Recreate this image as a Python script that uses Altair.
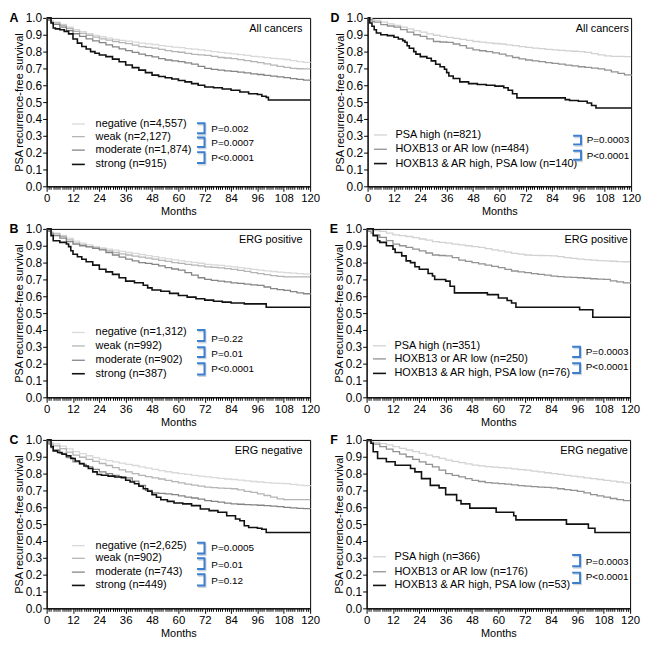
import altair as alt
import pandas as pd

W, H = 266, 170
FONT = "Liberation Sans"

GRID = [0, 1, 2, 3, 6, 9, 12, 15, 18, 21, 24, 27, 30, 33, 36, 39, 42, 45, 48, 51, 54, 57,
        60, 63, 66, 69, 72, 75, 78, 81, 84, 87, 90, 93, 96, 99, 102, 105, 108, 111, 114, 117, 120]

# ---------------- Panel A : All cancers (PSA staining) ----------------
A_neg = [1.0, 0.99, 0.982, 0.975, 0.962, 0.945, 0.93, 0.918, 0.906, 0.896, 0.888, 0.88, 0.873, 0.867,
         0.862, 0.856, 0.85, 0.846, 0.842, 0.836, 0.831, 0.827, 0.823, 0.818, 0.814, 0.81, 0.806, 0.80,
         0.795, 0.791, 0.787, 0.782, 0.777, 0.772, 0.768, 0.764, 0.76, 0.757, 0.753, 0.746, 0.74, 0.736, 0.733]
A_weak = [1.0, 0.988, 0.978, 0.97, 0.955, 0.937, 0.92, 0.908, 0.897, 0.886, 0.876, 0.868, 0.86, 0.853,
          0.847, 0.838, 0.83, 0.825, 0.82, 0.813, 0.806, 0.80, 0.796, 0.79, 0.784, 0.78, 0.777, 0.771,
          0.765, 0.762, 0.758, 0.752, 0.746, 0.74, 0.734, 0.727, 0.72, 0.712, 0.706, 0.70, 0.698, 0.697, 0.696]
A_mod = [1.0, 0.985, 0.972, 0.962, 0.945, 0.925, 0.906, 0.89, 0.876, 0.864, 0.853, 0.84, 0.828, 0.816,
         0.806, 0.795, 0.785, 0.776, 0.768, 0.758, 0.75, 0.745, 0.74, 0.733, 0.725, 0.712, 0.70, 0.695,
         0.69, 0.686, 0.683, 0.678, 0.673, 0.668, 0.664, 0.659, 0.654, 0.65, 0.645, 0.64, 0.635, 0.63, 0.626]
A_str_t = [0, 2, 3, 4, 6, 8, 10, 12, 14, 16, 18, 20, 22, 24, 27, 30, 33, 36, 39, 42, 45, 48, 51, 54,
           57, 60, 63, 66, 69, 72, 76, 80, 84, 88, 92, 96, 98, 100, 101, 120]
A_str_s = [1.0, 0.97, 0.94, 0.935, 0.93, 0.92, 0.905, 0.875, 0.85, 0.83, 0.815, 0.80, 0.79, 0.78, 0.77,
           0.755, 0.74, 0.72, 0.705, 0.69, 0.675, 0.66, 0.652, 0.645, 0.637, 0.628, 0.62, 0.61, 0.60,
           0.59, 0.585, 0.578, 0.57, 0.56, 0.55, 0.545, 0.535, 0.528, 0.513, 0.513]

# ---------------- Panel B : ERG positive ----------------
B_neg = [1.0, 0.99, 0.982, 0.975, 0.962, 0.945, 0.928, 0.915, 0.905, 0.895, 0.887, 0.88, 0.874, 0.867,
         0.86, 0.855, 0.848, 0.841, 0.835, 0.828, 0.822, 0.816, 0.81, 0.806, 0.801, 0.796, 0.79, 0.787,
         0.783, 0.779, 0.775, 0.77, 0.765, 0.76, 0.755, 0.751, 0.747, 0.744, 0.74, 0.737, 0.734, 0.732, 0.73]
B_weak = [1.0, 0.988, 0.978, 0.97, 0.955, 0.935, 0.915, 0.905, 0.895, 0.887, 0.88, 0.87, 0.86, 0.852,
          0.845, 0.838, 0.832, 0.826, 0.82, 0.813, 0.807, 0.80, 0.795, 0.79, 0.785, 0.78, 0.775, 0.772,
          0.768, 0.764, 0.76, 0.754, 0.748, 0.741, 0.735, 0.728, 0.722, 0.718, 0.715, 0.715, 0.715, 0.715, 0.715]
B_mod = [1.0, 0.985, 0.97, 0.96, 0.945, 0.925, 0.91, 0.90, 0.893, 0.885, 0.875, 0.86, 0.845, 0.832,
         0.82, 0.81, 0.80, 0.795, 0.79, 0.78, 0.77, 0.762, 0.755, 0.74, 0.725, 0.71, 0.70, 0.695, 0.69,
         0.685, 0.68, 0.676, 0.672, 0.668, 0.665, 0.655, 0.645, 0.64, 0.635, 0.628, 0.62, 0.615, 0.61]
B_str_t = [0, 2, 3, 6, 9, 10, 11, 12, 14, 16, 18, 21, 24, 27, 30, 33, 36, 40, 44, 46, 48, 52, 56, 60,
           64, 68, 72, 76, 80, 84, 90, 99, 100, 120]
B_str_s = [1.0, 0.96, 0.93, 0.92, 0.91, 0.895, 0.87, 0.85, 0.835, 0.82, 0.805, 0.785, 0.76, 0.745, 0.73,
           0.71, 0.69, 0.68, 0.665, 0.65, 0.637, 0.63, 0.617, 0.605, 0.595, 0.585, 0.577, 0.57, 0.565,
           0.56, 0.555, 0.555, 0.535, 0.535]

# ---------------- Panel C : ERG negative ----------------
C_neg = [1.0, 0.99, 0.983, 0.977, 0.963, 0.947, 0.93, 0.918, 0.906, 0.895, 0.885, 0.877, 0.87, 0.862,
         0.855, 0.848, 0.84, 0.832, 0.825, 0.818, 0.811, 0.805, 0.80, 0.795, 0.79, 0.785, 0.78, 0.776,
         0.772, 0.768, 0.765, 0.761, 0.757, 0.753, 0.75, 0.747, 0.744, 0.742, 0.74, 0.736, 0.732, 0.728, 0.725]
C_weak = [1.0, 0.985, 0.975, 0.965, 0.948, 0.928, 0.91, 0.897, 0.885, 0.872, 0.86, 0.848, 0.835, 0.822,
          0.81, 0.80, 0.79, 0.782, 0.775, 0.768, 0.76, 0.752, 0.745, 0.738, 0.732, 0.726, 0.72, 0.717,
          0.714, 0.712, 0.71, 0.703, 0.695, 0.688, 0.68, 0.67, 0.66, 0.65, 0.645, 0.645, 0.645, 0.645, 0.645]
C_mod = [1.0, 0.975, 0.955, 0.94, 0.92, 0.895, 0.87, 0.855, 0.84, 0.825, 0.81, 0.80, 0.79, 0.782, 0.775,
         0.755, 0.73, 0.70, 0.685, 0.682, 0.68, 0.675, 0.668, 0.66, 0.655, 0.648, 0.64, 0.635, 0.63,
         0.625, 0.62, 0.618, 0.616, 0.614, 0.612, 0.61, 0.607, 0.604, 0.60, 0.597, 0.594, 0.592, 0.59]
C_str_t = [0, 2, 3, 5, 7, 9, 11, 13, 15, 17, 19, 21, 23, 25, 28, 31, 34, 36, 38, 40, 42, 44, 46, 48,
           50, 52, 55, 58, 62, 66, 70, 74, 78, 82, 84, 86, 88, 90, 92, 96, 98, 100, 120]
C_str_s = [1.0, 0.96, 0.935, 0.925, 0.915, 0.905, 0.89, 0.875, 0.86, 0.845, 0.83, 0.81, 0.795, 0.79,
           0.785, 0.78, 0.775, 0.76, 0.75, 0.74, 0.725, 0.71, 0.695, 0.675, 0.66, 0.645, 0.635, 0.625,
           0.62, 0.61, 0.59, 0.58, 0.57, 0.55, 0.55, 0.53, 0.52, 0.49, 0.48, 0.475, 0.47, 0.45, 0.45]

# ---------------- Panel D : All cancers (groups) ----------------
D_high = [1.0, 0.995, 0.99, 0.985, 0.975, 0.965, 0.955, 0.945, 0.935, 0.925, 0.915, 0.905, 0.897, 0.89,
          0.884, 0.878, 0.872, 0.866, 0.86, 0.856, 0.852, 0.848, 0.845, 0.84, 0.835, 0.83, 0.825, 0.821,
          0.817, 0.813, 0.81, 0.807, 0.804, 0.802, 0.80, 0.795, 0.788, 0.78, 0.775, 0.772, 0.771, 0.77, 0.77]
D_low = [1.0, 0.99, 0.98, 0.975, 0.96, 0.952, 0.945, 0.93, 0.915, 0.90, 0.89, 0.875, 0.86, 0.857, 0.855,
         0.845, 0.835, 0.82, 0.81, 0.805, 0.80, 0.792, 0.785, 0.775, 0.765, 0.757, 0.75, 0.745, 0.74,
         0.735, 0.73, 0.725, 0.72, 0.715, 0.71, 0.706, 0.702, 0.697, 0.69, 0.68, 0.67, 0.662, 0.655]
D_blk_t = [0, 1, 2, 3, 4, 6, 9, 12, 14, 16, 17, 18, 19, 21, 22, 24, 27, 29, 31, 33, 35, 36, 37, 39, 42,
           46, 50, 54, 58, 62, 64, 66, 68, 86, 90, 92, 96, 100, 102, 104, 120]
D_blk_s = [1.0, 0.97, 0.95, 0.93, 0.91, 0.90, 0.895, 0.885, 0.875, 0.865, 0.855, 0.835, 0.82, 0.80,
           0.785, 0.77, 0.76, 0.745, 0.725, 0.71, 0.695, 0.675, 0.655, 0.64, 0.62, 0.61, 0.605, 0.60,
           0.595, 0.585, 0.57, 0.55, 0.525, 0.525, 0.515, 0.51, 0.505, 0.495, 0.48, 0.465, 0.465]

# ---------------- Panel E : ERG positive (groups) ----------------
E_high = [1.0, 0.997, 0.993, 0.99, 0.985, 0.975, 0.965, 0.96, 0.955, 0.948, 0.94, 0.933, 0.925, 0.92,
          0.915, 0.91, 0.905, 0.90, 0.895, 0.89, 0.883, 0.876, 0.87, 0.862, 0.855, 0.85, 0.845, 0.843,
          0.842, 0.841, 0.84, 0.835, 0.83, 0.825, 0.82, 0.817, 0.815, 0.812, 0.81, 0.808, 0.806, 0.805, 0.805]
E_low = [1.0, 0.985, 0.975, 0.965, 0.95, 0.93, 0.91, 0.90, 0.89, 0.88, 0.87, 0.857, 0.845, 0.842, 0.84,
         0.83, 0.815, 0.807, 0.80, 0.792, 0.785, 0.777, 0.77, 0.76, 0.75, 0.745, 0.74, 0.735, 0.73,
         0.725, 0.72, 0.717, 0.714, 0.712, 0.71, 0.707, 0.704, 0.702, 0.70, 0.692, 0.685, 0.68, 0.675]
E_blk_t = [0, 3, 5, 6, 9, 12, 13, 16, 18, 20, 22, 24, 28, 30, 31, 36, 38, 40, 52, 55, 60, 64, 66, 68,
           97, 103, 120]
E_blk_s = [1.0, 0.96, 0.93, 0.92, 0.90, 0.88, 0.86, 0.84, 0.81, 0.80, 0.775, 0.76, 0.735, 0.72, 0.70,
           0.69, 0.66, 0.62, 0.62, 0.61, 0.59, 0.575, 0.56, 0.535, 0.52, 0.475, 0.475]

# ---------------- Panel F : ERG negative (groups) ----------------
F_high = [1.0, 0.995, 0.99, 0.985, 0.978, 0.97, 0.96, 0.95, 0.94, 0.93, 0.92, 0.91, 0.90, 0.89, 0.88,
          0.872, 0.865, 0.858, 0.85, 0.846, 0.842, 0.838, 0.835, 0.832, 0.828, 0.824, 0.82, 0.815, 0.81,
          0.805, 0.80, 0.795, 0.79, 0.785, 0.78, 0.775, 0.77, 0.765, 0.76, 0.755, 0.75, 0.745, 0.74]
F_low = [1.0, 0.99, 0.98, 0.975, 0.96, 0.945, 0.93, 0.915, 0.90, 0.885, 0.87, 0.855, 0.84, 0.82, 0.80,
         0.79, 0.78, 0.77, 0.76, 0.753, 0.747, 0.743, 0.74, 0.737, 0.733, 0.729, 0.725, 0.722, 0.72,
         0.718, 0.715, 0.71, 0.705, 0.70, 0.695, 0.685, 0.675, 0.668, 0.66, 0.652, 0.645, 0.64, 0.64]
F_blk_t = [0, 2, 3, 5, 9, 13, 19, 20, 22, 25, 29, 33, 36, 41, 43, 47, 59, 67, 68, 91, 101, 104, 120]
F_blk_s = [1.0, 0.98, 0.93, 0.89, 0.87, 0.85, 0.85, 0.83, 0.81, 0.77, 0.73, 0.715, 0.675, 0.64, 0.62,
           0.595, 0.57, 0.55, 0.525, 0.50, 0.475, 0.45, 0.45]

# ---------------- text ----------------
LEG_A = ["negative (n=4,557)", "weak (n=2,127)", "moderate (n=1,874)", "strong (n=915)"]
LEG_B = ["negative (n=1,312)", "weak (n=992)", "moderate (n=902)", "strong (n=387)"]
LEG_C = ["negative (n=2,625)", "weak (n=902)", "moderate (n=743)", "strong (n=449)"]
LEG_D = ["PSA high (n=821)", "HOXB13 or AR low (n=484)", "HOXB13 & AR high, PSA low (n=140)"]
LEG_E = ["PSA high (n=351)", "HOXB13 or AR low (n=250)", "HOXB13 & AR high, PSA low (n=76)"]
LEG_F = ["PSA high (n=366)", "HOXB13 or AR low (n=176)", "HOXB13 & AR high, PSA low (n=53)"]
P_A = ["P=0.002", "P=0.0007", "P<0.0001"]
P_B = ["P=0.22", "P=0.01", "P<0.0001"]
P_C = ["P=0.0005", "P=0.01", "P=0.12"]
P_DEF = ["P=0.0003", "P<0.0001"]

LEGY_A = [0.37, 0.295, 0.215, 0.13]
LEGY_B = [0.385, 0.305, 0.22, 0.14]
LEGY_C = [0.372, 0.297, 0.215, 0.136]
LEGY_D = [0.305, 0.22, 0.135]
LEGY_E = [0.306, 0.228, 0.142]
LEGY_F = [0.306, 0.217, 0.136]

BR_TOP_A, BR_BOT_A, PY_A = [0.375, 0.29, 0.203], [0.315, 0.233, 0.138], [0.34, 0.256, 0.165]
BR_TOP_B, BR_BOT_B, PY_B = [0.40, 0.297, 0.202], [0.335, 0.24, 0.136], [0.348, 0.259, 0.17]
BR_TOP_C, BR_BOT_C, PY_C = [0.39, 0.297, 0.202], [0.325, 0.234, 0.136], [0.357, 0.259, 0.164]
BR_TOP_D, BR_BOT_D, PY_D = [0.30, 0.211], [0.249, 0.158], [0.277, 0.182]
BR_TOP_E, BR_BOT_E, PY_E = [0.30, 0.202], [0.24, 0.145], [0.268, 0.18]
BR_TOP_F, BR_BOT_F, PY_F = [0.316, 0.212], [0.25, 0.151], [0.274, 0.183]

LEFT_LEG_X = [11.5, 17.4, 22.3]    # line start, line end, text start (months)
RIGHT_LEG_X = [2.9, 8.8, 12.7]
LEFT_BR_X = [68.5, 71.9, 75.0]     # bracket open end, bracket spine, p-text start
RIGHT_BR_X = [93.6, 97.2, 99.8]

COL4 = ["#d9d9d9", "#b5b5b5", "#858585", "#111111"]
COL3 = ["#d2d2d2", "#929292", "#111111"]
WID4 = [1.3, 1.3, 1.3, 1.6]
WID3 = [1.3, 1.3, 1.6]
BLUE = "#3d7fcf"

MONTH_TICKS = list(range(0, 121))
Y_TICKS = [0.0, 0.1, 0.2, 0.3, 0.4, 0.5, 0.6, 0.7, 0.8, 0.9, 1.0]

xaxis = alt.Axis(values=MONTH_TICKS, format="d",
                 labelExpr="datum.value % 12 === 0 ? datum.label : ''",
                 tickSize={"condition": {"test": "datum.value % 12 === 0", "value": 5}, "value": 3},
                 labelOverlap=False, labelFlush=False, labelFontSize=11.5, titleFontSize=11,
                 labelPadding=1, titlePadding=2)
yaxis = alt.Axis(values=Y_TICKS, format=".1f", tickSize=4, labelFontSize=12, titleFontSize=11,
                 labelPadding=1, titlePadding=1)
xscale = alt.Scale(domain=[0, 120], nice=False, zero=False)
yscale = alt.Scale(domain=[0, 1], nice=False)


def X(f):
    return alt.X(f"{f}:Q", scale=xscale, axis=xaxis, title="Months")


def Y(f):
    return alt.Y(f"{f}:Q", scale=yscale, axis=yaxis, title="PSA recurrence-free survival")


def panel(curves, colors, widths, legend, legy, legx, br_top, br_bot, py, pvals, brx, label, lblx, letter):
    layers = []
    for (t, s), c, w in zip(curves, colors, widths):
        df = pd.DataFrame({"t": t, "s": s})
        layers.append(alt.Chart(df).mark_line(interpolate="step-after", color=c, strokeWidth=w)
                      .encode(x=X("t"), y=Y("s")))
    leg = pd.DataFrame({"x1": [legx[0]] * len(legend), "x2": [legx[1]] * len(legend),
                        "xt": [legx[2]] * len(legend), "y": legy, "lab": legend,
                        "col": colors, "w": widths})
    layers.append(alt.Chart(leg).mark_rule().encode(
        x=X("x1"), x2="x2:Q", y=Y("y"),
        color=alt.Color("col:N", scale=None), strokeWidth=alt.StrokeWidth("w:Q", scale=None)))
    layers.append(alt.Chart(leg).mark_text(align="left", baseline="middle", fontSize=11, color="black")
                  .encode(x=X("xt"), y=Y("y"), text="lab:N"))
    rows = []
    for i, (tp, bt) in enumerate(zip(br_top, br_bot)):
        rows += [{"bx": brx[0], "by": tp, "id": i, "o": 0},
                 {"bx": brx[1], "by": tp, "id": i, "o": 1},
                 {"bx": brx[1], "by": bt, "id": i, "o": 2},
                 {"bx": brx[0], "by": bt, "id": i, "o": 3}]
    br = pd.DataFrame(rows)
    layers.append(alt.Chart(br).mark_line(color="#9aa6b5", strokeWidth=2, opacity=0.45,
                                          xOffset=1, yOffset=1.5, strokeJoin="miter")
                  .encode(x=X("bx"), y=Y("by"), detail="id:N", order="o:Q"))
    layers.append(alt.Chart(br).mark_line(color=BLUE, strokeWidth=2, strokeJoin="miter")
                  .encode(x=X("bx"), y=Y("by"), detail="id:N", order="o:Q"))
    pdf = pd.DataFrame({"px": [brx[2]] * len(pvals), "py": py, "p": pvals})
    layers.append(alt.Chart(pdf).mark_text(align="left", baseline="middle", fontSize=10, color="black")
                  .encode(x=X("px"), y=Y("py"), text="p:N"))
    ldf = pd.DataFrame({"lx": [lblx], "ly": [0.935], "lab": [label]})
    layers.append(alt.Chart(ldf).mark_text(align="right", baseline="middle", fontSize=11, color="black")
                  .encode(x=X("lx"), y=Y("ly"), text="lab:N"))
    let = pd.DataFrame({"letter": [letter]})
    layers.append(alt.Chart(let).mark_text(align="center", baseline="middle", fontSize=12.5,
                                           fontWeight="bold", color="black")
                  .encode(x=alt.value(-33), y=alt.value(0), text="letter:N"))
    return alt.layer(*layers).properties(width=W, height=H)


pA = panel([(GRID, A_neg), (GRID, A_weak), (GRID, A_mod), (A_str_t, A_str_s)], COL4, WID4,
           LEG_A, LEGY_A, LEFT_LEG_X, BR_TOP_A, BR_BOT_A, PY_A, P_A, LEFT_BR_X, "All cancers", 116.5, "A")
pB = panel([(GRID, B_neg), (GRID, B_weak), (GRID, B_mod), (B_str_t, B_str_s)], COL4, WID4,
           LEG_B, LEGY_B, LEFT_LEG_X, BR_TOP_B, BR_BOT_B, PY_B, P_B, LEFT_BR_X, "ERG positive", 116.5, "B")
pC = panel([(GRID, C_neg), (GRID, C_weak), (GRID, C_mod), (C_str_t, C_str_s)], COL4, WID4,
           LEG_C, LEGY_C, LEFT_LEG_X, BR_TOP_C, BR_BOT_C, PY_C, P_C, LEFT_BR_X, "ERG negative", 116.5, "C")
pD = panel([(GRID, D_high), (GRID, D_low), (D_blk_t, D_blk_s)], COL3, WID3,
           LEG_D, LEGY_D, RIGHT_LEG_X, BR_TOP_D, BR_BOT_D, PY_D, P_DEF, RIGHT_BR_X, "All cancers", 119, "D")
pE = panel([(GRID, E_high), (GRID, E_low), (E_blk_t, E_blk_s)], COL3, WID3,
           LEG_E, LEGY_E, RIGHT_LEG_X, BR_TOP_E, BR_BOT_E, PY_E, P_DEF, RIGHT_BR_X, "ERG positive", 119, "E")
pF = panel([(GRID, F_high), (GRID, F_low), (F_blk_t, F_blk_s)], COL3, WID3,
           LEG_F, LEGY_F, RIGHT_LEG_X, BR_TOP_F, BR_BOT_F, PY_F, P_DEF, RIGHT_BR_X, "ERG negative", 119, "F")

chart = alt.vconcat(
    alt.hconcat(pA, pD, spacing=8),
    alt.hconcat(pB, pE, spacing=8),
    alt.hconcat(pC, pF, spacing=8),
    spacing=5,
).properties(padding=0).configure_axis(
    labelFont=FONT, titleFont=FONT, labelColor="black", titleColor="black",
    domainColor="black", tickColor="black", grid=False, titleFontWeight="normal"
).configure_view(stroke="black", strokeWidth=1).configure_text(font=FONT)

chart.save("out.html", embed_options={"renderer": "svg", "actions": False})
